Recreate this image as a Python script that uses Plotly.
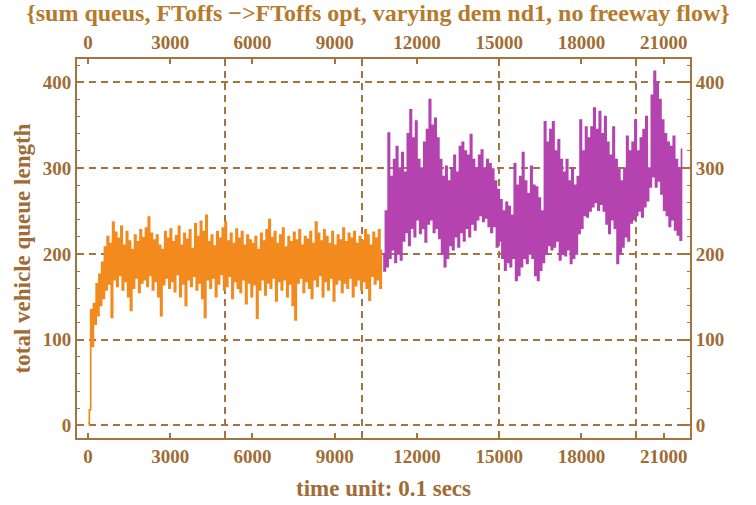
import plotly.graph_objects as go

# ---------------- data ----------------
orange_t0 = 0
orange_step = 50
orange_vals = [
    2, 18, 135, 92, 142, 118, 165, 128, 176, 140,
    190, 148, 208, 158, 220, 165, 212, 126, 237, 170,
    225, 162, 218, 175, 232, 158, 210, 168, 226, 150,
    215, 134, 205, 160, 222, 172, 214, 155, 228, 166,
    219, 170, 230, 162, 243, 175, 224, 158, 216, 168,
    222, 150, 210, 128, 205, 164, 226, 172, 218, 160,
    229, 168, 214, 156, 221, 176, 232, 150, 210, 165,
    224, 140, 217, 170, 228, 162, 206, 174, 235, 158,
    220, 166, 238, 148, 226, 126, 245, 170, 214, 160,
    222, 172, 209, 150, 226, 165, 218, 176, 230, 158,
    237, 162, 215, 174, 224, 148, 212, 168, 229, 160,
    218, 155, 226, 170, 210, 142, 222, 166, 216, 150,
    212, 164, 220, 125, 205, 158, 224, 170, 215, 152,
    228, 166, 240, 160, 219, 172, 226, 145, 212, 168,
    222, 158, 230, 170, 208, 150, 220, 165, 214, 140,
    225, 123, 216, 166, 228, 172, 210, 155, 220, 168,
    217, 160, 226, 148, 212, 170, 237, 162, 224, 175,
    215, 150, 228, 168, 220, 158, 212, 172, 226, 145,
    210, 165, 222, 170, 216, 155, 230, 166, 214, 160,
    224, 172, 218, 150, 226, 163, 212, 170, 220, 158,
    215, 168, 228, 160, 222, 146, 210, 174, 225, 165,
    218, 170, 228, 160, 205,
]

purple_t0 = 10750
purple_step = 50
purple_vals = [
    200, 180, 250, 185, 341, 195, 290, 205, 310, 190,
    325, 200, 300, 193, 318, 215, 295, 225, 340, 210,
    368, 230, 335, 220, 355, 240, 310, 224, 300, 230,
    330, 214, 345, 235, 380, 240, 350, 225, 358, 230,
    335, 218, 310, 200, 290, 185, 302, 195, 285, 210,
    300, 205, 315, 220, 295, 208, 325, 225, 330, 215,
    320, 230, 315, 220, 339, 235, 310, 228, 300, 240,
    315, 245, 321, 238, 300, 242, 310, 232, 305, 225,
    299, 232, 285, 208, 275, 215, 263, 195, 250, 181,
    260, 190, 255, 185, 245, 195, 305, 169, 280, 175,
    290, 185, 318, 195, 285, 189, 270, 200, 302, 195,
    280, 175, 278, 169, 265, 181, 250, 190, 354, 200,
    330, 210, 345, 205, 354, 208, 320, 215, 333, 193,
    310, 200, 295, 198, 310, 205, 285, 189, 300, 195,
    280, 200, 290, 224, 356, 230, 320, 245, 348, 243,
    335, 250, 348, 255, 370, 260, 345, 251, 366, 258,
    340, 250, 360, 235, 330, 224, 315, 240, 348, 230,
    310, 189, 298, 200, 285, 208, 300, 220, 337, 215,
    320, 236, 330, 240, 356, 245, 320, 250, 335, 243,
    345, 255, 360, 262, 300, 278, 385, 290, 413, 278,
    400, 285, 380, 270, 356, 251, 340, 245, 330, 232,
    325, 240, 337, 228, 310, 222, 300, 216, 323,
]

x_tickvals = [0, 3000, 6000, 9000, 12000, 15000, 18000, 21000]
x_ticktext = ["0", "3000", "6000", "9000", "12000", "15000", "18000", "21000"]
x_gridvals = [5000, 10000, 15000, 20000]
y_tickvals = [0, 100, 200, 300, 400]
y_ticktext = ["0", "100", "200", "300", "400"]

title_text = "{sum queus, FToffs \u2212>FToffs opt, varying dem nd1, no freeway flow}"
x_title = "time unit: 0.1 secs"
y_title = "total vehicle queue length"

# ---------------- styling ----------------
BROWN = "#A47440"
TEXT = "#A06C34"
TITLE_C = "#B57A2C"
ORANGE = "#F28A1E"
PURPLE = "#B443B0"
FONT = "Liberation Serif"
DASH = "7px,5px"

orange_t = [orange_t0 + i * orange_step for i in range(len(orange_vals))]
purple_t = [purple_t0 + i * purple_step for i in range(len(purple_vals))]

x_range = [-400, 21960]
y_range = [-14.8, 427.3]

fig = go.Figure()
fig.add_trace(go.Scatter(x=orange_t, y=orange_vals, mode="lines",
                         line=dict(color=ORANGE, width=1.7, shape="hv"), showlegend=False,
                         hoverinfo="skip"))
fig.add_trace(go.Scatter(x=purple_t, y=purple_vals, mode="lines",
                         line=dict(color=PURPLE, width=1.7, shape="hv"), showlegend=False,
                         hoverinfo="skip"))
# invisible trace to activate top/right axes
fig.add_trace(go.Scatter(x=[orange_t[0]], y=[orange_vals[0]], xaxis="x2", yaxis="y2",
                         mode="markers", marker=dict(opacity=0), showlegend=False,
                         hoverinfo="skip"))

tickfont = dict(family=FONT, size=19, color=TEXT, weight="bold")

common_x = dict(range=x_range, tickmode="array", tickvals=x_tickvals, ticktext=x_ticktext,
                ticks="inside", ticklen=5, tickwidth=1.5, tickcolor=BROWN,
                showline=True, linecolor=BROWN, linewidth=2, zeroline=False,
                tickfont=tickfont, automargin=False)
common_y = dict(range=y_range, tickmode="array", tickvals=y_tickvals, ticktext=y_ticktext,
                ticks="inside", ticklen=6, tickwidth=1.5, tickcolor=BROWN,
                showline=True, linecolor=BROWN, linewidth=2, zeroline=False,
                tickfont=tickfont, automargin=False)

fig.update_layout(
    width=756, height=505,
    margin=dict(l=77, r=66, t=59, b=67, autoexpand=False),
    paper_bgcolor="white", plot_bgcolor="white",
    title=dict(text=title_text, x=0.5, xanchor="center", y=0.975, yanchor="middle",
               font=dict(family=FONT, size=24, color=TITLE_C, weight="bold")),
    xaxis=dict(**common_x, showgrid=False,
               minor=dict(tickmode="array", tickvals=x_gridvals, ticks="inside", ticklen=5,
                          tickwidth=1.5, tickcolor=BROWN, showgrid=True,
                          gridcolor=BROWN, griddash=DASH, gridwidth=1.6),
               title=dict(text=x_title, standoff=14,
                          font=dict(family=FONT, size=23, color=TEXT, weight="bold"))),
    xaxis2=dict(**common_x, overlaying="x", side="top", showgrid=False,
                minor=dict(tickmode="array", tickvals=x_gridvals, ticks="inside", ticklen=5,
                           tickwidth=1.5, tickcolor=BROWN, showgrid=False)),
    yaxis=dict(**common_y, showgrid=True, gridcolor=BROWN, griddash=DASH, gridwidth=1.6,
               minor=dict(dtick=20, tick0=0, ticks="inside", ticklen=3, tickwidth=1.2,
                          tickcolor=BROWN, showgrid=False),
               title=dict(text=y_title, standoff=6,
                          font=dict(family=FONT, size=23, color=TEXT, weight="bold"))),
    yaxis2=dict(**common_y, overlaying="y", side="right", showgrid=False,
                minor=dict(dtick=20, tick0=0, ticks="inside", ticklen=3, tickwidth=1.2,
                           tickcolor=BROWN, showgrid=False)),
)

fig.write_html("out.html")
